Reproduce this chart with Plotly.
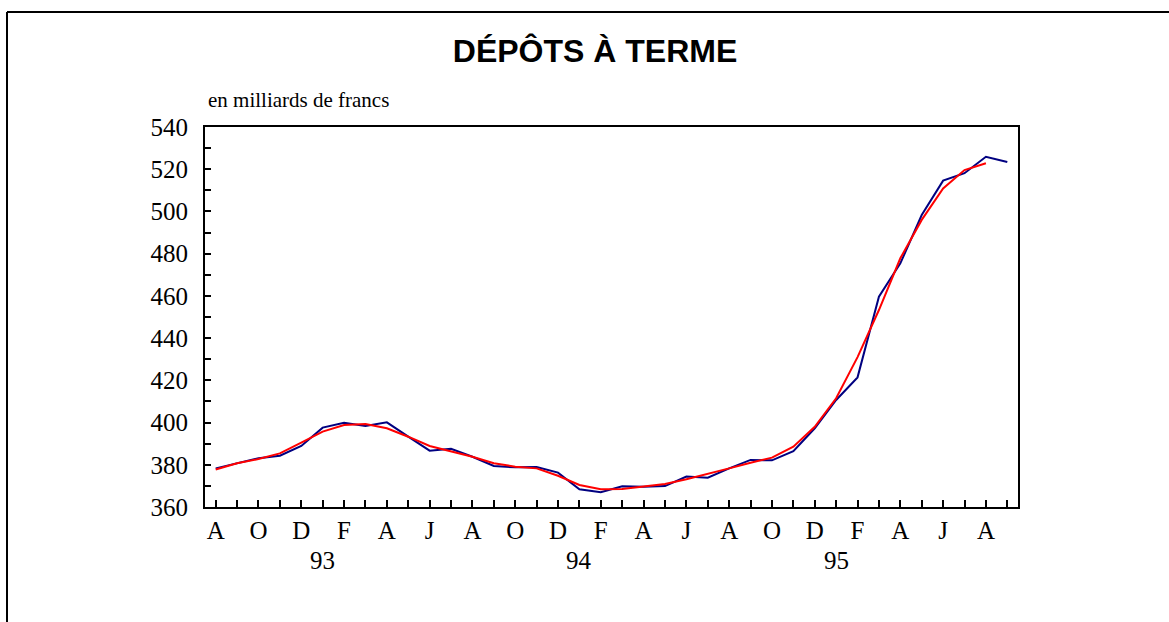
import plotly.graph_objects as go

# Monthly series, August 1992 to September 1995 (billions of francs)
months = [
    "1992-08", "1992-09", "1992-10", "1992-11", "1992-12",
    "1993-01", "1993-02", "1993-03", "1993-04", "1993-05", "1993-06",
    "1993-07", "1993-08", "1993-09", "1993-10", "1993-11", "1993-12",
    "1994-01", "1994-02", "1994-03", "1994-04", "1994-05", "1994-06",
    "1994-07", "1994-08", "1994-09", "1994-10", "1994-11", "1994-12",
    "1995-01", "1995-02", "1995-03", "1995-04", "1995-05", "1995-06",
    "1995-07", "1995-08", "1995-09",
]

depots_bruts = [
    378.3, 380.7, 383.1, 384.3, 388.9, 397.6, 399.9, 398.4, 400.1, 393.3,
    386.7, 387.6, 383.8, 379.4, 378.8, 378.9, 376.3, 368.4, 367.0, 369.8,
    369.6, 369.9, 374.4, 373.9, 378.3, 382.3, 382.1, 386.5, 397.3, 410.7,
    421.4, 459.6, 475.4, 498.3, 514.6, 518.1, 525.9, 523.4,
]

depots_tendance = [
    377.8, 380.7, 382.7, 385.4, 390.5, 395.7, 398.8, 399.3, 397.3, 393.3,
    388.9, 386.2, 383.8, 380.7, 379.1, 378.3, 374.8, 370.4, 368.4, 368.5,
    369.6, 370.9, 373.1, 375.6, 378.3, 381.0, 383.4, 388.6, 398.0, 411.5,
    431.0, 453.3, 477.8, 496.0, 510.9, 519.6, 522.8,
]

month_letters = ["A", "", "O", "", "D", "", "F", "", "A", "", "J", "",
                 "A", "", "O", "", "D", "", "F", "", "A", "", "J", "",
                 "A", "", "O", "", "D", "", "F", "", "A", "", "J", "",
                 "A", ""]

year_labels = ["93", "94", "95"]
year_months = ["1993-01", "1994-01", "1995-01"]

y_ticks = list(range(360, 541, 10))
y_text = [str(v) if v % 20 == 0 else "" for v in y_ticks]

# Page geometry (pixels)
W, H = 1169, 622
L, R, T, B = 205, 1018, 127, 507

def px_x(p):
    return (p - L) / (R - L)

def px_y(p):
    return (B - p) / (B - T)

idx = list(range(len(months)))
serif = "Liberation Serif, Times New Roman, serif"

fig = go.Figure()
fig.add_trace(go.Scatter(
    x=idx, y=depots_bruts, mode="lines",
    line=dict(color="#000080", width=2), showlegend=False,
))
fig.add_trace(go.Scatter(
    x=idx[:len(depots_tendance)], y=depots_tendance, mode="lines",
    line=dict(color="#FF0000", width=2), showlegend=False,
))

fig.update_layout(
    width=W, height=H,
    margin=dict(l=L, r=W - R, t=T, b=H - B),
    paper_bgcolor="white", plot_bgcolor="white",
    title=dict(
        text="<b>DÉPÔTS À TERME</b>",
        font=dict(family="Liberation Sans, Arial, sans-serif", size=32, color="black"),
        x=595 / W, xanchor="center", xref="container",
        y=1 - 51 / H, yanchor="middle", yref="container",
    ),
    xaxis=dict(
        range=[-0.5, len(months) - 0.5],
        tickvals=idx, ticktext=month_letters,
        ticks="inside", ticklen=7, tickwidth=2, tickcolor="black",
        showline=True, linecolor="black", linewidth=2, mirror=True,
        showgrid=False, zeroline=False,
        tickfont=dict(family=serif, size=25, color="black"),
    ),
    yaxis=dict(
        range=[360, 540],
        tickvals=y_ticks, ticktext=y_text,
        ticks="inside", ticklen=6, tickwidth=2, tickcolor="black",
        showline=True, linecolor="black", linewidth=2, mirror=True,
        showgrid=False, zeroline=False, ticklabelstandoff=10,
        tickfont=dict(family=serif, size=25, color="black"),
    ),
)

fig.add_annotation(
    text="en milliards de francs", xref="paper", yref="paper",
    x=px_x(206), y=px_y(100), xanchor="left", yanchor="middle",
    showarrow=False, font=dict(family=serif, size=21, color="black"),
)

for lab, m in zip(year_labels, year_months):
    fig.add_annotation(
        text=lab, xref="x", yref="paper",
        x=months.index(m), y=px_y(560), xanchor="center", yanchor="middle",
        showarrow=False, font=dict(family=serif, size=25, color="black"),
    )

# Page frame (top and left edges)
fig.add_shape(type="line", xref="paper", yref="paper",
              x0=px_x(7), y0=px_y(12), x1=px_x(W + 5), y1=px_y(12),
              line=dict(color="black", width=2))
fig.add_shape(type="line", xref="paper", yref="paper",
              x0=px_x(7), y0=px_y(12), x1=px_x(7), y1=px_y(H + 5),
              line=dict(color="black", width=2))

fig.write_html("out.html")
